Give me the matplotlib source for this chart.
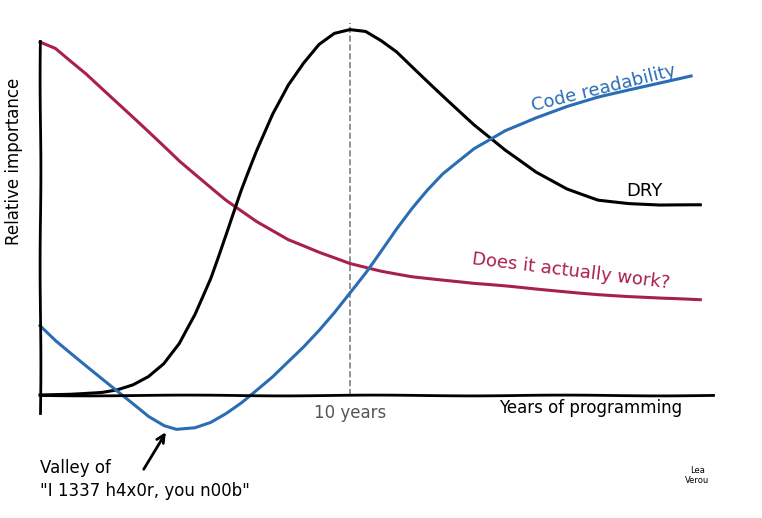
import matplotlib
matplotlib.use("Agg")
import matplotlib.pyplot as plt

# years of programming (x) and relative importance (y)
work_x = [0, 0.5, 1, 1.5, 2, 2.5, 3, 3.5, 4, 4.5, 5, 5.5, 6, 6.5, 7, 7.5, 8, 9, 10, 11, 12, 13, 14, 15, 16, 17, 18, 19, 20, 21.3]
work_y = [96.7, 95, 91.5, 88, 84, 80, 76, 72, 68, 64, 60.5, 57, 53.5, 50.5, 47.5, 45, 42.5, 39, 36, 34, 32.5, 31.5, 30.5, 29.8, 29, 28.3, 27.6, 27, 26.5, 26]

dry_x = [0, 1, 2, 2.5, 3, 3.5, 4, 4.5, 5, 5.5, 6, 6.5, 7, 7.5, 8, 8.5, 9, 9.5, 10, 10.5, 11, 11.5, 12, 13, 14, 15, 16, 17, 18, 19, 20, 21.3]
dry_y = [0, 0.3, 0.8, 1.5, 2.8, 5, 8.5, 14, 22, 32, 44, 56, 67, 77, 85, 91, 96, 99, 100, 99.5, 97, 94, 90, 82, 74, 67, 61, 56.5, 53.5, 52.5, 52, 52]

read_x = [0, 0.5, 1, 1.5, 2, 2.5, 3, 3.5, 4, 4.4, 5, 5.5, 6, 6.5, 7, 7.5, 8, 8.5, 9, 9.5, 10, 10.5, 11, 11.5, 12, 12.5, 13, 14, 15, 16, 17, 18, 19, 20, 21]
read_y = [19, 15, 11.5, 8, 4.5, 1, -2.5, -6, -8.5, -9.5, -9, -7.5, -5, -2, 1.5, 5, 9, 13, 17.5, 22.5, 28, 33.5, 39.5, 45.5, 51, 56, 60.5, 67.5, 72.5, 76, 79, 81.5, 83.5, 85.5, 87.5]

plt.xkcd(scale=0.4, length=200, randomness=1.5)
plt.rcParams["font.family"] = "DejaVu Sans"
plt.rcParams["path.effects"] = []

fig = plt.figure(figsize=(7.62, 5.18), dpi=100)
ax = fig.add_axes([0, 0, 1, 1])
ax.set_xlim(-40 / 31, (762 - 40) / 31)
ax.set_ylim((395 - 518) / 3.65, 395 / 3.65)

for s in ["top", "right"]:
    ax.spines[s].set_visible(False)
ax.spines["left"].set_position(("data", 0))
ax.spines["bottom"].set_position(("data", 0))
ax.spines["left"].set_bounds(-5, 97)
ax.spines["bottom"].set_bounds(0, 21.7)
ax.spines["left"].set_linewidth(2)
ax.spines["bottom"].set_linewidth(2)
ax.set_xticks([])
ax.set_yticks([])

vline = ax.axvline(10, ymin=33.7 / 141.9, ymax=135.7 / 141.9, color="gray", ls="--", lw=1.2)
vline.set_sketch_params(None)

ax.plot(work_x, work_y, color="#a8204e", lw=2.2)
ax.plot(dry_x, dry_y, color="black", lw=2.2)
ax.plot(read_x, read_y, color="#2a6db5", lw=2.2)

ax.text(10, -2.5, "10 years", color="#555555", ha="center", va="top", fontsize=12)
ax.text(14.8, -1, "Years of programming", ha="left", va="top", fontsize=12)
ax.text(-0.85, 64, "Relative importance", rotation=90, ha="center", va="center", fontsize=12)
ax.text(15.8, 84, "Code readability", color="#2a6db5", rotation=14, ha="left", va="center", fontsize=13)
ax.text(19.5, 56, "DRY", ha="center", va="center", fontsize=13)
ax.text(13.9, 34, "Does it actually work?", color="#a8204e", rotation=-7, ha="left", va="center", fontsize=13)
ax.text(0, -17.5, "Valley of\n\"I 1337 h4x0r, you n00b\"", ha="left", va="top", fontsize=12, linespacing=1.4)
ax.annotate("", xy=(4.1, -9.5), xytext=(3.3, -21),
            arrowprops=dict(arrowstyle="->", color="black", lw=2))
ax.text(21.2, -22, "Lea\nVerou", fontsize=6, ha="center", va="center")

fig.savefig("out.png", dpi=100)
